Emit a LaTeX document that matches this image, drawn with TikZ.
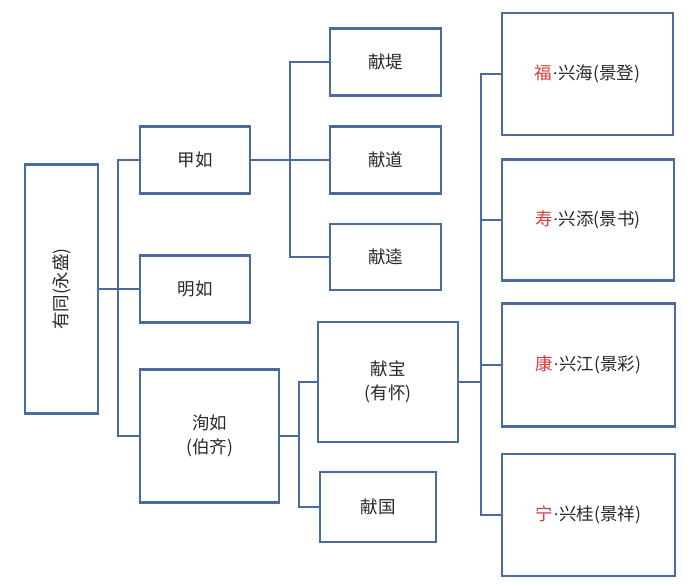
\documentclass[tikz,border=0pt]{standalone}
\usepackage{fontspec}
\setmainfont{Noto Sans CJK SC}
\newfontfamily\latinfont{Liberation Serif}
\usepackage{graphicx}
\definecolor{boxblue}{RGB}{74,107,160}
\definecolor{txtred}{RGB}{215,60,60}
\definecolor{txtgray}{RGB}{40,40,40}
\begin{document}
\begin{tikzpicture}[x=1pt,y=-1pt,
  boxstyle/.style={draw=boxblue,line width=2.2pt,inner sep=0pt,outer sep=0pt,align=center,
    font=\fontsize{17.5}{24}\selectfont,text=txtgray},
  conn/.style={draw=boxblue,line width=2pt}]
\useasboundingbox (0,0) rectangle (693,584);
% boxes
\node[boxstyle,minimum width=73pt,minimum height=249pt] (root) at (61.5,289) {\rotatebox{90}{有同(永盛)}};
\node[boxstyle,minimum width=110pt,minimum height=67pt] (jia) at (195,160) {甲如};
\node[boxstyle,minimum width=110pt,minimum height=67pt] (ming) at (195,289) {明如};
\node[boxstyle,minimum width=139pt,minimum height=133pt] (xun) at (209.5,436) {洵如\\(伯齐)};
\node[boxstyle,minimum width=111pt,minimum height=67pt] (ti) at (385.5,62) {献堤};
\node[boxstyle,minimum width=111pt,minimum height=67pt] (dao) at (385.5,160) {献道};
\node[boxstyle,minimum width=111pt,minimum height=66pt] (kui) at (385.5,257) {献逵};
\node[boxstyle,minimum width=140pt,minimum height=120pt] (bao) at (388,382) {献宝\\(有怀)};
\node[boxstyle,minimum width=116pt,minimum height=70pt] (guo) at (378,507) {献国};
\node[boxstyle,minimum width=171pt,minimum height=122pt] (fu) at (587.5,74) {\textcolor{txtred}{福}{\latinfont ·}兴海(景登)};
\node[boxstyle,minimum width=172pt,minimum height=121pt] (shou) at (588,220) {\textcolor{txtred}{寿}{\latinfont ·}兴添(景书)};
\node[boxstyle,minimum width=173pt,minimum height=123pt] (kang) at (588.5,365) {\textcolor{txtred}{康}{\latinfont ·}兴江(景彩)};
\node[boxstyle,minimum width=173pt,minimum height=122pt] (ning) at (588.5,515) {\textcolor{txtred}{宁}{\latinfont ·}兴桂(景祥)};
% fork coordinates
\coordinate (f1) at (118,0);
\coordinate (f2) at (290,0);
\coordinate (f3) at (299,0);
\coordinate (f4) at (481,0);
% connectors
\draw[conn] (root.east) -- (ming.west);
\draw[conn] (jia.west) -| (f1 |- xun.west) -- (xun.west);
\draw[conn] (jia.east) -- (dao.west);
\draw[conn] (ti.west) -| (f2 |- kui.west) -- (kui.west);
\draw[conn] (xun.east) -- (xun.east -| f3);
\draw[conn] (bao.west) -| (f3 |- guo.west) -- (guo.west);
\draw[conn] (bao.east) -- (bao.east -| f4);
\draw[conn] (fu.west) -| (f4 |- ning.west) -- (ning.west);
\draw[conn] (shou.west) -- (shou.west -| f4);
\draw[conn] (kang.west) -- (kang.west -| f4);
\end{tikzpicture}
\end{document}
